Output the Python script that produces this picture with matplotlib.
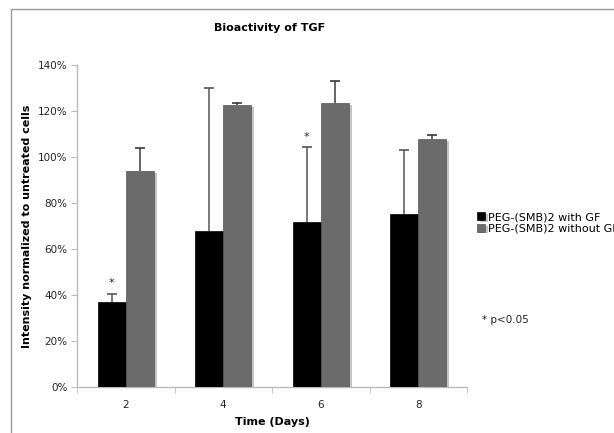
import matplotlib
matplotlib.use("Agg")
import matplotlib.pyplot as plt
import matplotlib.patheffects as pe
from matplotlib.patches import Rectangle
import numpy as np

# data
days = ["2", "4", "6", "8"]
with_gf = [37.1, 67.7, 71.8, 75.3]
with_gf_err = [3.5, 62.2, 32.4, 27.8]
without_gf = [93.8, 122.5, 123.5, 107.7]
without_gf_err = [10.2, 1.2, 9.7, 1.9]
signif = [True, False, True, False]
series_names = ["PEG-(SMB)2 with GF", "PEG-(SMB)2 without GF"]

W, H = 614, 433
fig = plt.figure(figsize=(W / 100, H / 100), dpi=100)
plt.rcParams['font.family'] = ['DejaVu Sans']

# outer chart frame (cut off at right/bottom like the screenshot)
fig.patches.append(Rectangle((10.5 / W, -0.1), 1.2, 1 - 9.5 / H + 0.1, transform=fig.transFigure,
                             fill=False, edgecolor='#9a9a9a', linewidth=1.0))

ax = fig.add_axes([77 / W, 1 - 387.3 / H, (467 - 77) / W, (387.3 - 65) / H])

x = np.arange(len(days))
bw = 0.285
shadow = [pe.SimplePatchShadow(offset=(2.2, -1.2), shadow_rgbFace='#c4c4c4', alpha=1.0), pe.Normal()]

b1 = ax.bar(x - bw / 2, with_gf, bw, color='black', edgecolor='black', linewidth=0.5, zorder=3)
b2 = ax.bar(x + bw / 2, without_gf, bw, color='#6b6b6b', edgecolor='#555555', linewidth=0.5, zorder=3)
for b in list(b1) + list(b2):
    b.set_path_effects(shadow)


def up_err(xs, ys, errs, col):
    xs = np.asarray(xs)
    tops = np.asarray(ys) + np.asarray(errs)
    ax.vlines(xs, ys, tops, colors=col, linewidth=1.1, zorder=2)
    ax.plot(xs, tops, linestyle='none', marker='_', markersize=7, markeredgewidth=1.2,
            color=col, zorder=2)


up_err(x - bw / 2, with_gf, with_gf_err, '#555555')
up_err(x + bw / 2, without_gf, without_gf_err, '#3a3a3a')

for i, s in enumerate(signif):
    if s:
        ax.text(x[i] - bw / 2, with_gf[i] + with_gf_err[i] + 2.5, "*", ha='center', va='bottom',
                fontsize=8, color='#222222')

ax.set_xlim(-0.5, 3.5)
ax.set_ylim(0, 140)
ax.set_yticks(np.arange(0, 141, 20))
ax.set_yticklabels([f"{v}%" for v in range(0, 141, 20)], fontsize=7.5, color='#222222')
ax.set_xticks(x)
ax.set_xticklabels(days, fontsize=7.5, color='#222222')
ax.set_xticks(np.arange(-0.5, 3.6, 1), minor=True)
ax.tick_params(axis='x', which='major', length=0, pad=9)
ax.tick_params(axis='x', which='minor', length=4, color='#bbbbbb', direction='out')
ax.tick_params(axis='y', length=4, color='#bbbbbb', direction='out', pad=3)

for sp in ['top', 'right']:
    ax.spines[sp].set_visible(False)
for sp in ['left', 'bottom']:
    ax.spines[sp].set_color('#bbbbbb')
    ax.spines[sp].set_linewidth(1.0)

fig.text(270 / W, 1 - 28 / H, "Bioactivity of TGF", ha='center', va='center',
         fontsize=8, fontweight='bold')
fig.text(272 / W, 1 - 422 / H, "Time (Days)", ha='center', va='center',
         fontsize=8, fontweight='bold')
fig.text(27 / W, 1 - 226 / H, "Intensity normalized to untreated cells", ha='center', va='center',
         rotation=90, fontsize=8, fontweight='bold')

ax.legend([b1, b2], series_names, loc='upper left', bbox_to_anchor=(477 / W, 1 - 212 / H),
          bbox_transform=fig.transFigure, frameon=False, fontsize=8, handlelength=0.7,
          handleheight=0.7, handletextpad=0.3, labelspacing=0.15, borderaxespad=0, borderpad=0)

fig.text(482 / W, 1 - 320 / H, "* p<0.05", ha='left', va='center', fontsize=7.5, color='#222222')

fig.savefig("out.png", dpi=100)
